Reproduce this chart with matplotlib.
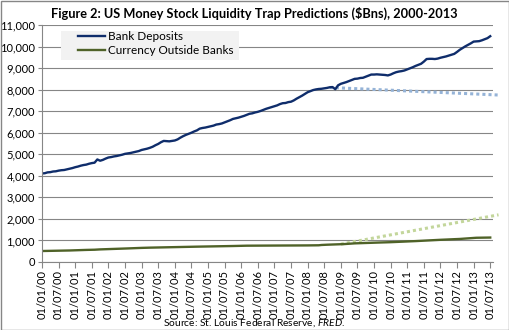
import matplotlib
matplotlib.use("Agg")
import matplotlib.pyplot as plt
from matplotlib.patches import Rectangle
from matplotlib.lines import Line2D
from matplotlib.ticker import FuncFormatter

plt.rcParams['font.family'] = ['Lato', 'DejaVu Sans']
plt.rcParams['mathtext.fontset'] = 'custom'
plt.rcParams['mathtext.rm'] = 'Lato'
plt.rcParams['mathtext.it'] = 'Lato:italic'

# monthly values, Jan 2000 .. Jul 2013 ($bn)
bank_deposits = [
    4110, 4120, 4160, 4170, 4200, 4210, 4240, 4260, 4270, 4300, 4330, 4360,   # 2000
    4400, 4430, 4470, 4500, 4520, 4560, 4590, 4610, 4760, 4700, 4740, 4800,   # 2001
    4850, 4870, 4900, 4920, 4950, 4980, 5020, 5040, 5060, 5090, 5120, 5150,   # 2002
    5200, 5230, 5260, 5300, 5350, 5420, 5480, 5560, 5620, 5610, 5600, 5620,   # 2003
    5640, 5690, 5770, 5840, 5900, 5950, 6000, 6060, 6110, 6190, 6220, 6240,   # 2004
    6270, 6300, 6330, 6380, 6400, 6430, 6480, 6530, 6580, 6640, 6670, 6700,   # 2005
    6740, 6780, 6830, 6880, 6900, 6940, 6970, 7010, 7060, 7110, 7150, 7190,   # 2006
    7230, 7270, 7330, 7370, 7380, 7420, 7440, 7500, 7580, 7650, 7720, 7800,   # 2007
    7880, 7930, 7980, 8010, 8030, 8040, 8060, 8080, 8110, 8120, 8020, 8200,   # 2008
    8270, 8310, 8350, 8400, 8450, 8500, 8510, 8540, 8550, 8600, 8650, 8700,   # 2009
    8700, 8710, 8700, 8690, 8680, 8660, 8700, 8760, 8810, 8840, 8860, 8890,   # 2010
    8940, 8990, 9040, 9100, 9150, 9200, 9300, 9420, 9430, 9430, 9420, 9440,   # 2011
    9480, 9510, 9540, 9580, 9620, 9660, 9750, 9850, 9930, 10010, 10080, 10150,  # 2012
    10230, 10240, 10250, 10290, 10340, 10390, 10480,                           # 2013
]

currency = [
    510, 512, 514, 516, 518, 520, 522, 524, 526, 530, 535, 540,     # 2000
    545, 550, 555, 558, 561, 564, 567, 570, 580, 585, 590, 595,     # 2001
    600, 605, 610, 614, 618, 622, 626, 630, 634, 638, 642, 646,     # 2002
    655, 660, 663, 666, 669, 672, 675, 678, 681, 684, 687, 690,     # 2003
    692, 694, 696, 698, 700, 705, 708, 710, 712, 714, 716, 718,     # 2004
    720, 722, 724, 726, 728, 730, 733, 736, 739, 742, 746, 752,     # 2005
    755, 756, 757, 758, 759, 760, 760, 761, 761, 762, 762, 763,     # 2006
    763, 764, 764, 765, 765, 766, 766, 767, 767, 768, 768, 769,     # 2007
    770, 771, 772, 774, 776, 790, 798, 802, 806, 810, 815, 818,     # 2008
    820, 830, 840, 850, 858, 865, 870, 875, 880, 885, 890, 895,     # 2009
    898, 900, 903, 906, 910, 915, 920, 925, 930, 935, 940, 945,     # 2010
    950, 957, 964, 970, 976, 982, 988, 995, 1002, 1010, 1018, 1025,  # 2011
    1030, 1035, 1040, 1045, 1050, 1055, 1065, 1070, 1080, 1090, 1100, 1110,  # 2012
    1120, 1125, 1128, 1130, 1132, 1134, 1135,                        # 2013
]

# liquidity-trap projections (month index from Jan 2000, value)
deposits_trap_months = [104, 165]
deposits_trap_values = [8100, 7750]
currency_trap_months = [108, 165]
currency_trap_values = [830, 2190]

tick_labels = ['01/%02d/%02d' % (m, y) for y in range(0, 14) for m in (1, 7)]

months = list(range(len(bank_deposits)))

fig = plt.figure(figsize=(5.1, 3.3), dpi=100)
ax = fig.add_axes([42 / 510, 68 / 330, 451 / 510, 237 / 330])

grey = '#868686'
ax.grid(axis='y', color=grey, lw=0.8)
ax.set_axisbelow(True)

ax.plot(deposits_trap_months, deposits_trap_values, color='#95b3d7', lw=2.2,
        linestyle=(0, (1, 1)), dash_capstyle='butt', clip_on=False)
ax.plot(currency_trap_months, currency_trap_values, color='#c3d69b', lw=2.2,
        linestyle=(0, (1, 1)), dash_capstyle='butt', clip_on=False)
ax.plot(months, bank_deposits, color='#0f2d6b', lw=1.7)
ax.plot(months, currency, color='#4f6228', lw=1.7)

ax.set_xlim(0, 163)
ax.set_ylim(0, 11000)
ax.set_yticks(range(0, 11001, 1000))
ax.yaxis.set_major_formatter(FuncFormatter(lambda v, p: f'{int(v):,}'))
ax.set_xticks(range(0, 163, 6))
ax.set_xticklabels(tick_labels, rotation=90)

for side in ('top', 'right'):
    ax.spines[side].set_visible(False)
for side in ('left', 'bottom'):
    ax.spines[side].set_color(grey)
    ax.spines[side].set_linewidth(0.8)
ax.tick_params(axis='x', direction='out', length=4, width=0.8, color=grey,
               labelsize=8, pad=2)
ax.tick_params(axis='y', direction='out', length=3, width=0.8, color=grey,
               labelsize=8, pad=2)

# legend panel
fig.patches.append(Rectangle((61 / 510, 1 - 60 / 330), 178 / 510, 29 / 330,
                             transform=fig.transFigure, facecolor='#f2f2f2',
                             edgecolor='none', zorder=3))
handles = [Line2D([], [], color='#0f2d6b', lw=1.7),
           Line2D([], [], color='#4f6228', lw=1.7)]
fig.legend(handles, ['Bank Deposits', 'Currency Outside Banks'],
           loc='upper left', bbox_to_anchor=(78 / 510, 1 - 31 / 330),
           frameon=False, fontsize=8.5, borderpad=0, borderaxespad=0,
           handlelength=2.3, handletextpad=0.2, labelspacing=0.25)

fig.text(254 / 510, 1 - 13 / 330,
         'Figure 2: US Money Stock Liquidity Trap Predictions ($Bns), 2000-2013',
         ha='center', va='center', fontsize=9.2, fontweight='bold')

fig.text(254 / 510, 1 - 323 / 330,
         r'Source: St. Louis Federal Reserve, $\mathit{FRED}$.',
         ha='center', va='center', fontsize=7.4)

# outer frame
fig.patches.append(Rectangle((0.5 / 510, 0.5 / 330), 509 / 510, 329 / 330,
                             transform=fig.transFigure, fill=False,
                             edgecolor=grey, lw=1))

fig.savefig('out.png', dpi=100)
